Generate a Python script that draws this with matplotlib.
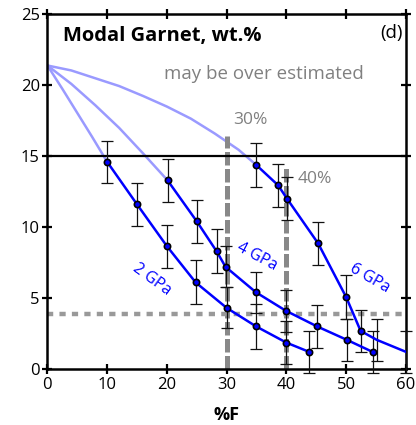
import matplotlib
matplotlib.use("Agg")
import matplotlib.pyplot as plt

plt.rcParams['font.family'] = ['Open Sans', 'DejaVu Sans']

# measured curves (%F vs modal garnet wt.%)
f_2gpa = [10, 15, 20, 24.8, 30, 34.9, 40, 43.8]
gt_2gpa = [14.6, 11.6, 8.65, 6.1, 4.3, 3.0, 1.85, 1.2]
err_2gpa = [1.5, 1.5, 1.5, 1.55, 1.45, 1.6, 1.5, 1.5]

f_4gpa = [20.1, 25, 28.3, 29.8, 34.9, 39.9, 45.1, 50.1, 54.4]
gt_4gpa = [13.3, 10.4, 8.3, 7.2, 5.4, 4.1, 3.0, 2.05, 1.2]
err_4gpa = [1.5, 1.5, 1.55, 1.45, 1.45, 1.5, 1.5, 1.5, 1.5]

f_6gpa = [34.9, 38.6, 40.1, 45.3, 50, 52.4, 55.1, 60]
gt_6gpa = [14.4, 12.95, 12.0, 8.85, 5.05, 2.68, 2.05, 1.2]
err_6gpa = [1.55, 1.5, 1.5, 1.5, 1.55, 1.5, 1.5, 1.5]
n_marked_6gpa = 6

# extrapolations back to the source (light blue)
f_ext2 = [0, 2.5, 5, 7.5, 10]
gt_ext2 = [21.4, 19.75, 18.05, 16.35, 14.6]
f_ext4 = [0, 4, 8, 12, 16, 20.1]
gt_ext4 = [21.4, 20.1, 18.6, 17.0, 15.2, 13.3]
f_ext6 = [0, 4, 8, 12, 16, 20, 24, 28, 32, 34.9]
gt_ext6 = [21.4, 21.05, 20.5, 19.95, 19.25, 18.5, 17.65, 16.6, 15.45, 14.4]

melt_fracs = [30, 40]
melt_tops = [16.4, 14.4]
melt_labels = ['30%', '40%']
gt_ref = 3.85
gt_line = 15

fig = plt.figure(figsize=(4.16, 4.25), dpi=100)
ax = fig.add_axes([0.114, 0.132, 0.862, 0.834])

for xs, ys in [(f_ext2, gt_ext2), (f_ext4, gt_ext4), (f_ext6, gt_ext6)]:
    ax.plot(xs, ys, color='#9a9aff', lw=1.8, zorder=2, solid_joinstyle='round')

# reference lines
ax.axhline(gt_line, color='black', lw=1.6, zorder=3)
for xf, top in zip(melt_fracs, melt_tops):
    ax.plot([xf, xf], [0, top], color='#888888', lw=3.6, dashes=(2.7, 0.7),
            zorder=2)
ax.plot([0, 60], [gt_ref, gt_ref], color='#999999', lw=3.2, dashes=(1.4, 1.4),
        zorder=2)

for xs, ys, es, nm in [(f_2gpa, gt_2gpa, err_2gpa, len(f_2gpa)),
                       (f_4gpa, gt_4gpa, err_4gpa, len(f_4gpa)),
                       (f_6gpa, gt_6gpa, err_6gpa, n_marked_6gpa)]:
    ax.errorbar(xs, ys, yerr=es, fmt='none', ecolor='#111111', elinewidth=0.9,
                capsize=4.5, capthick=0.9, zorder=4, clip_on=False)
    ax.plot(xs, ys, color='#0000ff', lw=1.8, zorder=5)
    ax.plot(xs[:nm], ys[:nm], 'o', ms=4.5, mfc='#0000ff', mec='black',
            mew=1.2, zorder=6)

# text
ax.text(2.6, 23.5, 'Modal Garnet, wt.%', fontsize=14.5, fontweight='bold',
        va='center', ha='left')
ax.text(59.4, 23.7, '(d)', fontsize=13.5, va='center', ha='right')
ax.text(36.3, 20.8, 'may be over estimated', fontsize=13.5, color='#808080',
        va='center', ha='center')
ax.text(31.0, 17.55, melt_labels[0], fontsize=12.5, color='#808080',
        va='center', ha='left')
ax.text(41.8, 13.4, melt_labels[1], fontsize=12.5, color='#808080',
        va='center', ha='left')
ax.text(17.4, 6.3, '2 GPa', fontsize=11.5, color='#0000ff', rotation=-36,
        va='center', ha='center')
ax.text(35.0, 7.9, '4 GPa', fontsize=11.5, color='#0000ff', rotation=-28,
        va='center', ha='center')
ax.text(54.0, 6.4, '6 GPa', fontsize=11.5, color='#0000ff', rotation=-30,
        va='center', ha='center')

ax.set_xlim(0, 60)
ax.set_ylim(0, 25)
ax.set_xticks(range(0, 61, 10))
ax.set_yticks(range(0, 26, 5))
ax.tick_params(direction='inout', length=7, width=1.6, labelsize=12,
               top=True, right=True, pad=2)
for sp in ax.spines.values():
    sp.set_linewidth(1.8)
ax.set_xlabel('%F', fontsize=13, fontweight='bold', labelpad=10)

fig.savefig('out.png', dpi=100)
